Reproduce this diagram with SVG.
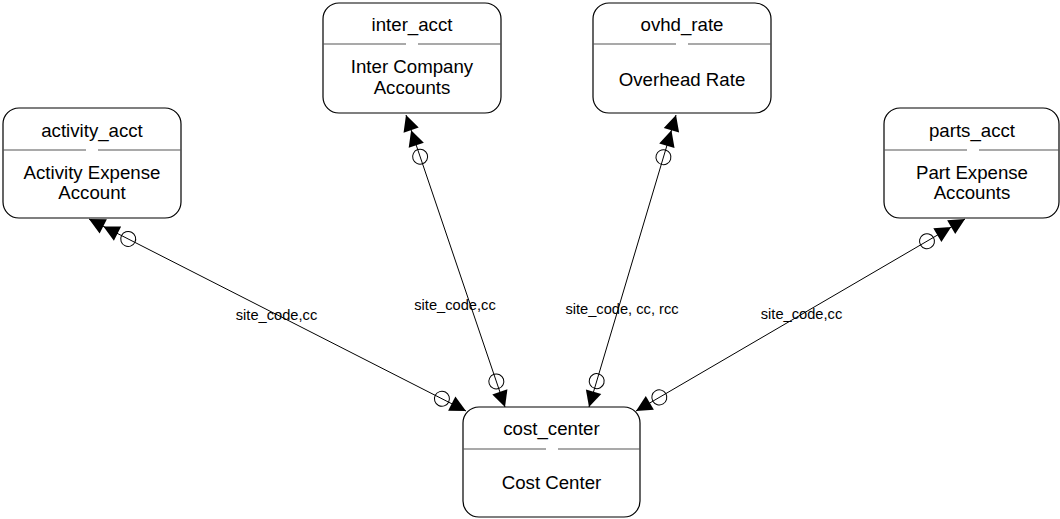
<svg xmlns="http://www.w3.org/2000/svg" width="1060" height="519" viewBox="0 0 1060 519">
<style>
.box{fill:#fff;stroke:#000;stroke-width:1.2}
.div{stroke:#555;stroke-width:1.2}
.t{font-family:"Liberation Sans",Arial,sans-serif;font-size:18.67px;fill:#000;text-anchor:middle}
.lbl{font-family:"Liberation Sans",Arial,sans-serif;font-size:14.67px;fill:#000;text-anchor:middle}
.con{stroke:#000;stroke-width:1;fill:none;marker-start:url(#many);marker-end:url(#one)}
</style>
<defs>
<marker id="one" markerUnits="userSpaceOnUse" orient="auto" refX="0" refY="0" markerWidth="60" markerHeight="30" overflow="visible">
<path d="M0,0 L-16,-8 L-16,8 Z" fill="#000"/>
<circle cx="-27" cy="0" r="7.5" fill="none" stroke="#000" stroke-width="1"/>
</marker>
<marker id="many" markerUnits="userSpaceOnUse" orient="auto-start-reverse" refX="0" refY="0" markerWidth="60" markerHeight="30" overflow="visible">
<path d="M0,0 L-16,-8 L-16,8 Z M-16,0 L-32,-8 L-32,8 Z" fill="#000"/>
<circle cx="-44" cy="0" r="7.5" fill="none" stroke="#000" stroke-width="1"/>
</marker>
</defs>
<g id="connectors">
<path class="con" d="M89,219 L466,411"/>
<path class="con" d="M406,115 L505,407"/>
<path class="con" d="M676,115 L589,407"/>
<path class="con" d="M965,219 L636,411"/>
<text class="lbl" x="276.5" y="320">site_code,cc</text>
<text class="lbl" x="455" y="310">site_code,cc</text>
<text class="lbl" x="622" y="314">site_code, cc, rcc</text>
<text class="lbl" x="801.5" y="319">site_code,cc</text>
</g>
<g id="activity_acct">
<rect class="box" x="3" y="108" width="178" height="110" rx="16"/>
<line class="div" x1="3" y1="150" x2="86" y2="150"/><line class="div" x1="98" y1="150" x2="181" y2="150"/>
<text class="t" x="92" y="137">activity_acct</text>
<text class="t" x="92" y="179">Activity Expense</text>
<text class="t" x="92" y="199">Account</text>
</g>
<g id="inter_acct">
<rect class="box" x="323" y="3" width="178" height="110" rx="16"/>
<line class="div" x1="323" y1="44" x2="406" y2="44"/><line class="div" x1="418" y1="44" x2="501" y2="44"/>
<text class="t" x="412" y="31">inter_acct</text>
<text class="t" x="412" y="73">Inter Company</text>
<text class="t" x="412" y="94">Accounts</text>
</g>
<g id="ovhd_rate">
<rect class="box" x="593" y="3" width="178" height="110" rx="16"/>
<line class="div" x1="593" y1="44" x2="676" y2="44"/><line class="div" x1="688" y1="44" x2="771" y2="44"/>
<text class="t" x="682" y="31">ovhd_rate</text>
<text class="t" x="682" y="86">Overhead Rate</text>
</g>
<g id="parts_acct">
<rect class="box" x="884" y="108" width="175" height="110" rx="16"/>
<line class="div" x1="884" y1="150" x2="967" y2="150"/><line class="div" x1="979" y1="150" x2="1059" y2="150"/>
<text class="t" x="972" y="137">parts_acct</text>
<text class="t" x="972" y="179">Part Expense</text>
<text class="t" x="972" y="199">Accounts</text>
</g>
<g id="cost_center">
<rect class="box" x="463" y="407" width="177" height="110" rx="16"/>
<line class="div" x1="463" y1="449" x2="546" y2="449"/><line class="div" x1="558" y1="449" x2="640" y2="449"/>
<text class="t" x="551.5" y="435">cost_center</text>
<text class="t" x="551.5" y="489">Cost Center</text>
</g>
</svg>
